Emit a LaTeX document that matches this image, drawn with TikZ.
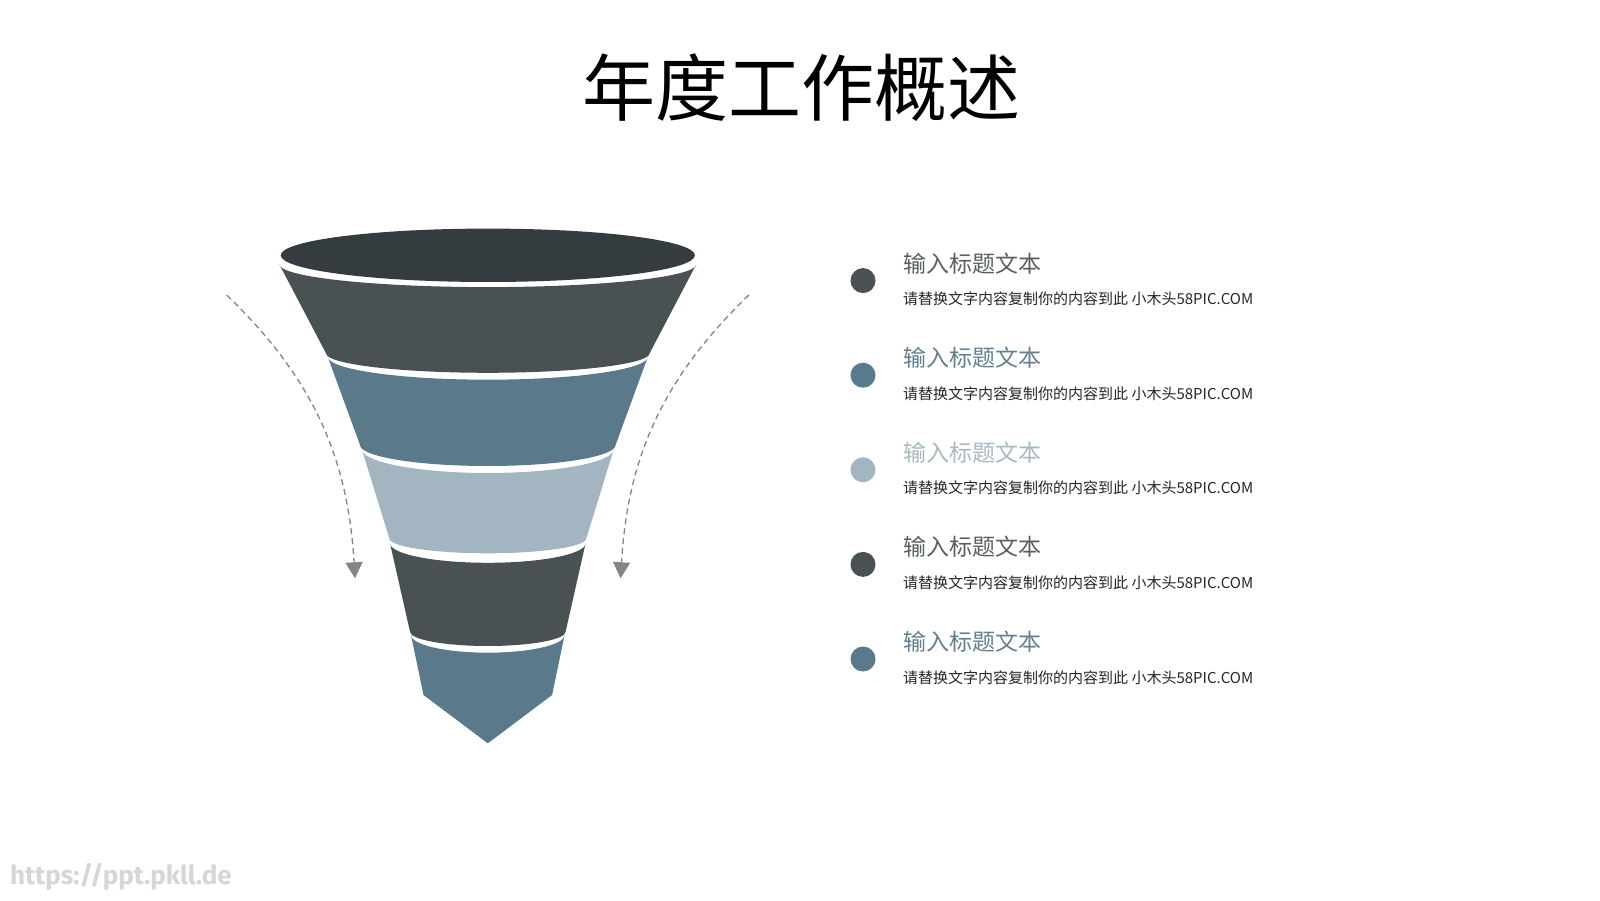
\documentclass[tikz,border=0pt]{standalone}
\usepackage{fontspec}
\newfontfamily\cjk{Noto Sans CJK SC}
\newfontfamily\wmfont{Fira Sans}
\usetikzlibrary{arrows.meta}
\definecolor{rimdark}{HTML}{343C3F}
\definecolor{slate}{HTML}{495153}
\definecolor{steel}{HTML}{5A798A}
\definecolor{mist}{HTML}{A3B5C0}
\definecolor{headgray}{HTML}{5A5F62}
\definecolor{headsteel}{HTML}{62808F}
\definecolor{headmist}{HTML}{A8B9C2}

\begin{document}
\begin{tikzpicture}[x=1pt,y=1pt,
  flow/.style={-{Triangle[width=17pt,length=16pt]},draw=black!48,line width=1.3pt,dash pattern=on 6pt off 4pt},
  dot/.style={circle,inner sep=0pt,minimum size=25pt},
  head/.style={anchor=west,inner sep=0pt,font=\cjk\fontsize{23}{23}\selectfont},
  body/.style={anchor=west,inner sep=0pt,font=\cjk\fontsize{15}{15}\selectfont,text=black!85},
  title/.style={font=\cjk\fontsize{73}{73}\selectfont,text=black},
]
\useasboundingbox[fill=white] (0,0) rectangle (1600,900);
\node[title] (title) at (801,812) {年度工作概述};
\fill[rimdark] (487.8,644.7) ellipse[x radius=207.1,y radius=26.7];
\foreach \yt/\wt/\st/\yb/\wb/\sb/\col in {635.7/208.5/22.8/546.7/161.8/19.5/slate,543.3/160.1/23/455/127.8/21/steel,451/126.1/24/361.7/98.5/15/mist,356.7/97.8/19.5/268.3/77.8/14.3/slate}
  \fill[\col] (487.8-\wt,\yt) arc[start angle=180,end angle=360,x radius=\wt,y radius=\st] -- (487.8+\wb,\yb) arc[start angle=0,end angle=-180,x radius=\wb,y radius=\sb] -- cycle;
\fill[steel] (411,265) arc[start angle=180,end angle=360,x radius=76.8,y radius=17.7] -- (552.1,205) -- (487.8,156.7) -- (423.5,205) -- cycle;
\coordinate (lfrom) at (226.7,605);
\coordinate (lto) at (355,321.7);
\coordinate (rfrom) at (748.9,605);
\coordinate (rto) at (620.6,321.7);
\draw[flow] (lfrom) .. controls (315,520) and (348,440) .. (lto);
\draw[flow] (rfrom) .. controls (660.6,520) and (627.6,440) .. (rto);
\foreach \i/\hc/\dc in {1/headgray/slate,2/headsteel/steel,3/headmist/mist,4/headgray/slate,5/headsteel/steel}{
  \node[dot,fill=\dc] (dot\i) at (863,{619.4-94.6*(\i-1)}) {};
  \node[head,text=\hc] (head\i) at (903,{636.7-94.6*(\i-1)}) {输入标题文本};
  \node[body] (body\i) at (903,{601-94.6*(\i-1)}) {请替换文字内容复制你的内容到此 小木头58PIC.COM};
}
\node[anchor=west,inner sep=0pt,text=black!16,font=\wmfont\bfseries\fontsize{26}{26}\selectfont] (mark) at (10,23) {https://ppt.pkll.de};
\end{tikzpicture}
\end{document}
